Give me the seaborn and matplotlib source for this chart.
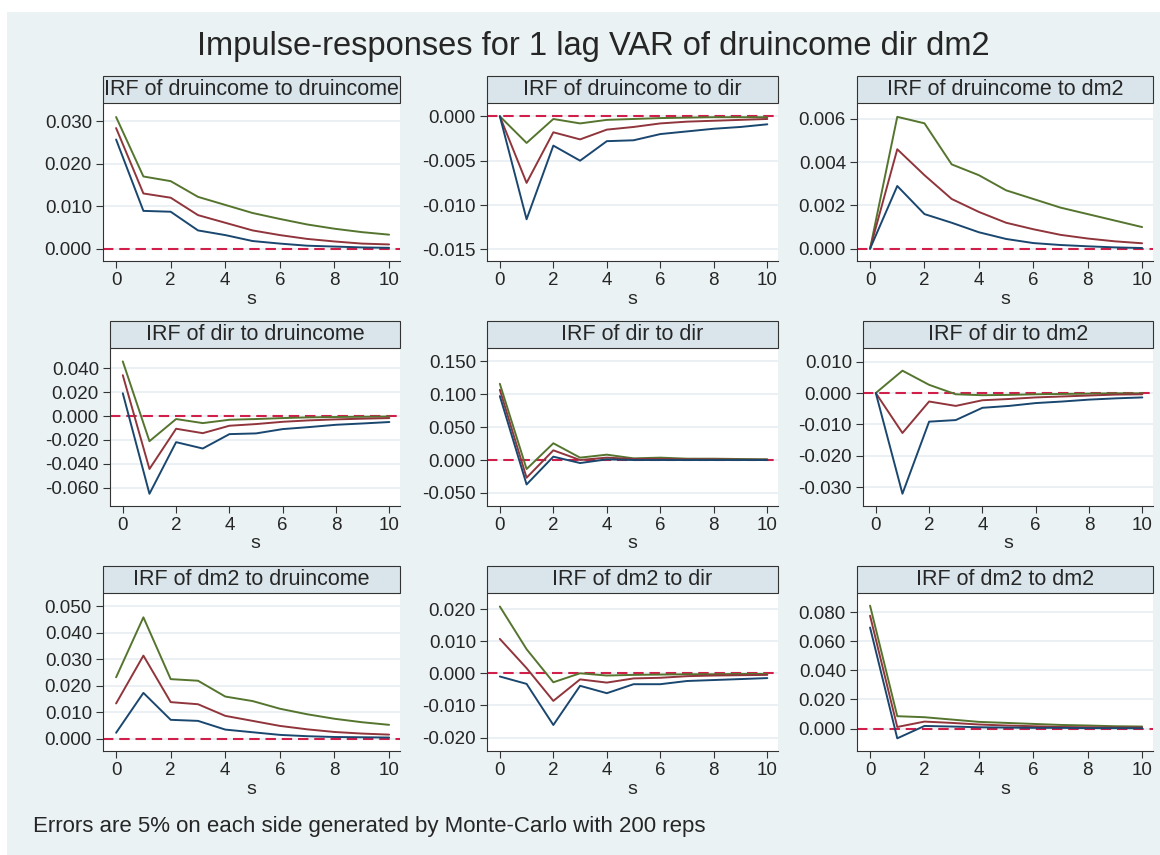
import matplotlib
matplotlib.use("Agg")
import matplotlib.pyplot as plt
from matplotlib.patches import Rectangle
from matplotlib.ticker import FormatStrFormatter
import numpy as np
import pandas as pd
import seaborn as sns

steps = list(range(11))

# lower band / irf / upper band for each impulse -> response panel
lo_inc_inc = [0.0257, 0.0089, 0.0087, 0.0043, 0.0032, 0.0018, 0.0012, 0.0007, 0.0005, 0.0003, 0.0002]
irf_inc_inc = [0.0284, 0.0130, 0.0120, 0.0079, 0.0061, 0.0043, 0.0032, 0.0023, 0.0017, 0.0012, 0.0010]
hi_inc_inc = [0.0310, 0.0170, 0.0159, 0.0122, 0.0103, 0.0084, 0.0070, 0.0057, 0.0047, 0.0039, 0.0033]

lo_inc_dir = [0.0, -0.0116, -0.0033, -0.0050, -0.0028, -0.0027, -0.0020, -0.0017, -0.0014, -0.0012, -0.0009]
irf_inc_dir = [0.0, -0.0075, -0.0018, -0.0026, -0.0015, -0.0012, -0.0008, -0.0006, -0.0005, -0.0004, -0.0003]
hi_inc_dir = [0.0, -0.0030, -0.0003, -0.0008, -0.0004, -0.0003, -0.0002, -0.00015, -0.0001, -0.0001, -0.0001]

lo_inc_dm2 = [0.0, 0.0029, 0.0016, 0.0012, 0.00076, 0.00045, 0.00026, 0.00017, 0.00011, 0.00006, 0.00003]
irf_inc_dm2 = [0.0, 0.0046, 0.0034, 0.0023, 0.0017, 0.0012, 0.0009, 0.00064, 0.00047, 0.00034, 0.00025]
hi_inc_dm2 = [0.0, 0.0061, 0.0058, 0.0039, 0.0034, 0.0027, 0.0023, 0.0019, 0.0016, 0.0013, 0.0010]

lo_dir_inc = [0.0190, -0.0649, -0.0218, -0.0271, -0.0151, -0.0145, -0.0109, -0.0092, -0.0073, -0.0062, -0.0050]
irf_dir_inc = [0.0341, -0.0442, -0.0106, -0.0143, -0.0081, -0.0067, -0.0048, -0.0036, -0.0028, -0.0022, -0.0017]
hi_dir_inc = [0.0456, -0.0210, -0.0025, -0.0059, -0.0031, -0.0025, -0.0017, -0.0011, -0.0008, -0.0006, -0.0004]

lo_dir_dir = [0.0970, -0.0371, 0.0051, -0.0046, 0.0010, 0.0000, 0.0000, 0.0000, 0.0000, 0.0000, 0.0000]
irf_dir_dir = [0.1066, -0.0269, 0.0147, 0.0000, 0.0036, 0.0015, 0.0015, 0.0010, 0.0010, 0.0005, 0.0005]
hi_dir_dir = [0.1157, -0.0137, 0.0254, 0.0036, 0.0081, 0.0025, 0.0036, 0.0020, 0.0020, 0.0015, 0.0010]

lo_dir_dm2 = [0.0, -0.0320, -0.0091, -0.0086, -0.0047, -0.0041, -0.0032, -0.0027, -0.0021, -0.0017, -0.0014]
irf_dir_dm2 = [0.0, -0.0127, -0.0027, -0.0041, -0.0023, -0.0019, -0.0014, -0.0011, -0.0008, -0.0005, -0.0004]
hi_dir_dm2 = [0.0, 0.0071, 0.0026, -0.0004, -0.0007, -0.0006, -0.0004, -0.0003, -0.0002, -0.0001, -0.0001]

lo_dm2_inc = [0.0022, 0.0173, 0.0071, 0.0067, 0.0034, 0.0024, 0.0014, 0.0009, 0.0006, 0.0005, 0.0004]
irf_dm2_inc = [0.0133, 0.0314, 0.0138, 0.0130, 0.0086, 0.0067, 0.0048, 0.0035, 0.0025, 0.0019, 0.0015]
hi_dm2_inc = [0.0232, 0.0459, 0.0225, 0.0219, 0.0159, 0.0142, 0.0113, 0.0092, 0.0075, 0.0062, 0.0052]

lo_dm2_dir = [-0.0010, -0.0033, -0.0161, -0.0039, -0.0062, -0.0034, -0.0034, -0.0024, -0.0021, -0.0018, -0.0015]
irf_dm2_dir = [0.0107, 0.0016, -0.0086, -0.0019, -0.0029, -0.0016, -0.0014, -0.0009, -0.0007, -0.0006, -0.0005]
hi_dm2_dir = [0.0208, 0.0075, -0.0028, 0.0000, -0.0007, -0.0005, -0.0004, -0.0003, -0.0003, -0.0002, -0.0002]

lo_dm2_dm2 = [0.0694, -0.0067, 0.0018, 0.0014, 0.0009, 0.0007, 0.0005, 0.0005, 0.0003, 0.0003, 0.0002]
irf_dm2_dm2 = [0.0775, 0.0011, 0.0048, 0.0039, 0.0028, 0.0021, 0.0016, 0.0011, 0.0009, 0.0007, 0.0007]
hi_dm2_dm2 = [0.0844, 0.0085, 0.0078, 0.0062, 0.0046, 0.0039, 0.0032, 0.0025, 0.0021, 0.0016, 0.0014]

panel_titles = ["IRF of druincome to druincome", "IRF of druincome to dir", "IRF of druincome to dm2",
                "IRF of dir to druincome", "IRF of dir to dir", "IRF of dir to dm2",
                "IRF of dm2 to druincome", "IRF of dm2 to dir", "IRF of dm2 to dm2"]
panel_data = [(lo_inc_inc, irf_inc_inc, hi_inc_inc), (lo_inc_dir, irf_inc_dir, hi_inc_dir),
              (lo_inc_dm2, irf_inc_dm2, hi_inc_dm2), (lo_dir_inc, irf_dir_inc, hi_dir_inc),
              (lo_dir_dir, irf_dir_dir, hi_dir_dir), (lo_dir_dm2, irf_dir_dm2, hi_dir_dm2),
              (lo_dm2_inc, irf_dm2_inc, hi_dm2_inc), (lo_dm2_dir, irf_dm2_dir, hi_dm2_dir),
              (lo_dm2_dm2, irf_dm2_dm2, hi_dm2_dm2)]
yticks = [[0, 0.01, 0.02, 0.03], [-0.015, -0.01, -0.005, 0], [0, 0.002, 0.004, 0.006],
          [-0.06, -0.04, -0.02, 0, 0.02, 0.04], [-0.05, 0, 0.05, 0.1, 0.15], [-0.03, -0.02, -0.01, 0, 0.01],
          [0, 0.01, 0.02, 0.03, 0.04, 0.05], [-0.02, -0.01, 0, 0.01, 0.02], [0, 0.02, 0.04, 0.06, 0.08]]
ylims = [(-0.0029, 0.0343), (-0.0163, 0.0015), (-0.00057, 0.00674),
         (-0.0751, 0.0568), (-0.0698, 0.170), (-0.0359, 0.0143),
         (-0.0047, 0.0551), (-0.0242, 0.025), (-0.0154, 0.0931)]

title = "Impulse-responses for 1 lag VAR of druincome dir dm2"
note = "Errors are 5% on each side generated by Monte-Carlo with 200 reps"

sns.set_style("white")
plt.rcParams["font.family"] = ["Liberation Sans", "DejaVu Sans"]

W, H = 1160, 855
bg = "#eaf2f3"
band_colors = {"lower": "#1a476f", "irf": "#90353b", "upper": "#55752f"}

fig = plt.figure(figsize=(W / 100, H / 100), dpi=100)
fig.patch.set_facecolor("white")
fig.add_artist(Rectangle((7 / W, 0), 1, 1 - 12 / H, transform=fig.transFigure,
                         facecolor=bg, edgecolor="none", zorder=0))

rows = [(103, 261), (348, 506), (593, 751)]
cols = [[(103, 400), (487, 778), (857, 1153)],
        [(110, 400), (487, 778), (863, 1153)],
        [(103, 400), (487, 778), (857, 1153)]]
title_h = 27

for i in range(9):
    r, c = divmod(i, 3)
    top, bottom = rows[r]
    left, right = cols[r][c]
    ax = fig.add_axes([left / W, 1 - bottom / H, (right - left) / W, (bottom - top) / H])
    ax.set_facecolor("white")

    lo, mid, hi = panel_data[i]
    df = pd.DataFrame({"s": steps * 3,
                       "value": lo + mid + hi,
                       "band": ["lower"] * 11 + ["irf"] * 11 + ["upper"] * 11})

    for y in yticks[i]:
        ax.axhline(y, color="#e6eef1", lw=1.2, zorder=0.5)
    ax.axhline(0, color="#cf1f4a", lw=1.5, dashes=(5, 2.8), zorder=1)
    sns.lineplot(data=df, x="s", y="value", hue="band", palette=band_colors,
                 hue_order=["upper", "irf", "lower"], ax=ax, legend=False,
                 linewidth=1.4, zorder=2)

    ax.set_xlim(-0.48, 10.4)
    ax.set_ylim(*ylims[i])
    ax.set_xticks([0, 2, 4, 6, 8, 10])
    ax.set_yticks(yticks[i])
    ax.yaxis.set_major_formatter(FormatStrFormatter("%.3f"))
    ax.tick_params(axis="both", direction="out", length=5, width=0.8, color="#333333",
                   labelsize=13.5, pad=3, left=True, bottom=True)
    ax.set_xlabel("s", fontsize=14, labelpad=1)
    ax.set_ylabel("")
    for side in ["top", "right"]:
        ax.spines[side].set_visible(False)
    for side in ["left", "bottom"]:
        ax.spines[side].set_color("#333333")
        ax.spines[side].set_linewidth(0.8)

    # title band above each panel
    fig.add_artist(Rectangle((left / W, 1 - top / H), (right - left) / W, title_h / H,
                             transform=fig.transFigure, facecolor="#d9e5ea",
                             edgecolor="#333333", linewidth=0.8, zorder=3))
    fig.text((left + right) / 2 / W, 1 - (top - title_h / 2) / H, panel_titles[i],
             ha="center", va="center", fontsize=15.5, zorder=4)

fig.text(593 / W, 1 - 47 / H, title, ha="center", va="center", fontsize=23.5)
fig.text(33 / W, 1 - 826 / H, note, ha="left", va="center", fontsize=16)

fig.savefig("out.png", dpi=100, facecolor=fig.get_facecolor())
